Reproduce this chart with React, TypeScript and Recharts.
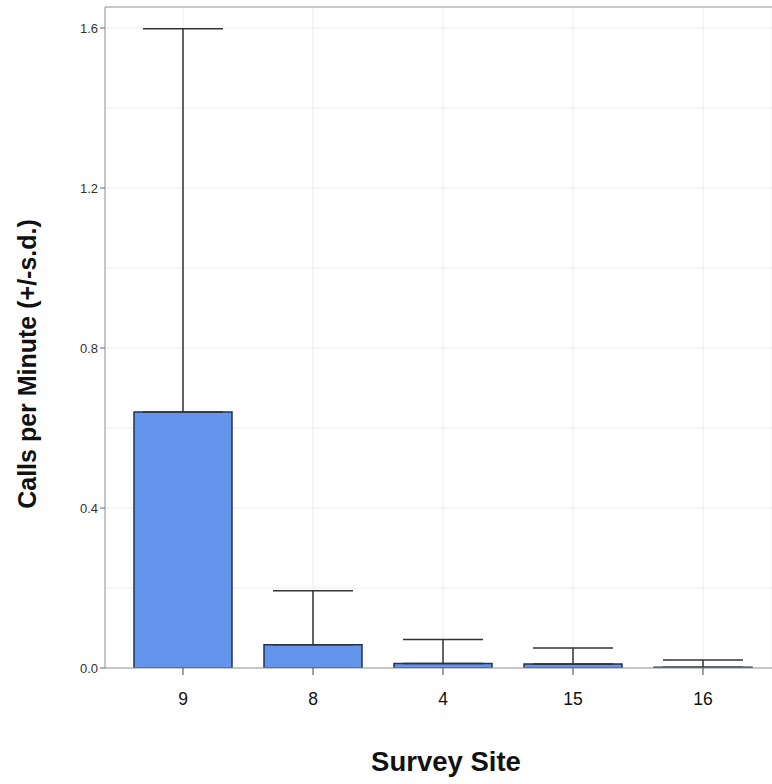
import React from "react"
import {
  Bar,
  BarChart,
  CartesianGrid,
  ErrorBar,
  ReferenceLine,
  XAxis,
  YAxis,
} from "recharts"

// survey sites, in display order
const sites = ["9", "8", "4", "15", "16"]
// mean calls per minute
const meanCalls = [0.64, 0.058, 0.011, 0.01, 0.002]
// standard deviation (drawn upward only)
const sdCalls = [0.958, 0.135, 0.06, 0.04, 0.018]

const yTicks = [0, 0.4, 0.8, 1.2, 1.6]
const gridTicks = [0, 0.2, 0.4, 0.6, 0.8, 1.0, 1.2, 1.4, 1.6]
const yMax = 1.6525

const data = sites.map((site, i) => ({
  site,
  mean: meanCalls[i],
  sd: [0, sdCalls[i]],
}))

const FONT = "'Liberation Sans', Arial, sans-serif"

const YTitle = () => {
  const cx = 27
  const cy = 364
  return (
    <text
      x={cx}
      y={cy}
      transform={`rotate(-90, ${cx}, ${cy})`}
      textAnchor="middle"
      dominantBaseline="central"
      fontFamily={FONT}
      fontWeight="bold"
      fontSize={25}
      fill="#111"
    >
      Calls per Minute (+/-s.d.)
    </text>
  )
}

const XTitle = () => (
  <text
    x={446}
    y={771}
    textAnchor="middle"
    fontFamily={FONT}
    fontWeight="bold"
    fontSize={27.5}
    fill="#111"
  >
    Survey Site
  </text>
)

export default function App() {
  return (
    <div style={{ position: "absolute", left: 0, top: 0, background: "#fff" }}>
      <BarChart
        width={772}
        height={784}
        data={data}
        margin={{ top: 7, right: 0, left: 0, bottom: 0 }}
      >
        <CartesianGrid
          stroke="#ececec"
          horizontalValues={gridTicks}
          vertical={true}
        />
        <XAxis
          dataKey="site"
          height={116}
          padding={{ left: 13, right: 4 }}
          tickLine={{ stroke: "#444" }}
          tickSize={7}
          tickMargin={18}
          axisLine={{ stroke: "#999" }}
          tick={{ fontFamily: FONT, fontSize: 17.5, fill: "#111" }}
          label={<XTitle />}
        />
        <YAxis
          type="number"
          domain={[0, yMax]}
          ticks={yTicks}
          allowDataOverflow
          width={105}
          tickFormatter={(v: number) => v.toFixed(1)}
          tickLine={{ stroke: "#666" }}
          tickSize={5}
          tickMargin={2}
          axisLine={{ stroke: "#999" }}
          tick={{ fontFamily: FONT, fontSize: 13, fill: "#333" }}
          label={<YTitle />}
        />
        <ReferenceLine y={yMax} stroke="#c8c8c8" strokeWidth={2} />
        <Bar
          dataKey="mean"
          fill="#6495ED"
          stroke="#22324f"
          strokeWidth={1.5}
          barSize={98}
          isAnimationActive={false}
        >
          <ErrorBar
            dataKey="sd"
            direction="y"
            width={40}
            stroke="#333"
            strokeWidth={1.5}
          />
        </Bar>
      </BarChart>
    </div>
  )
}
